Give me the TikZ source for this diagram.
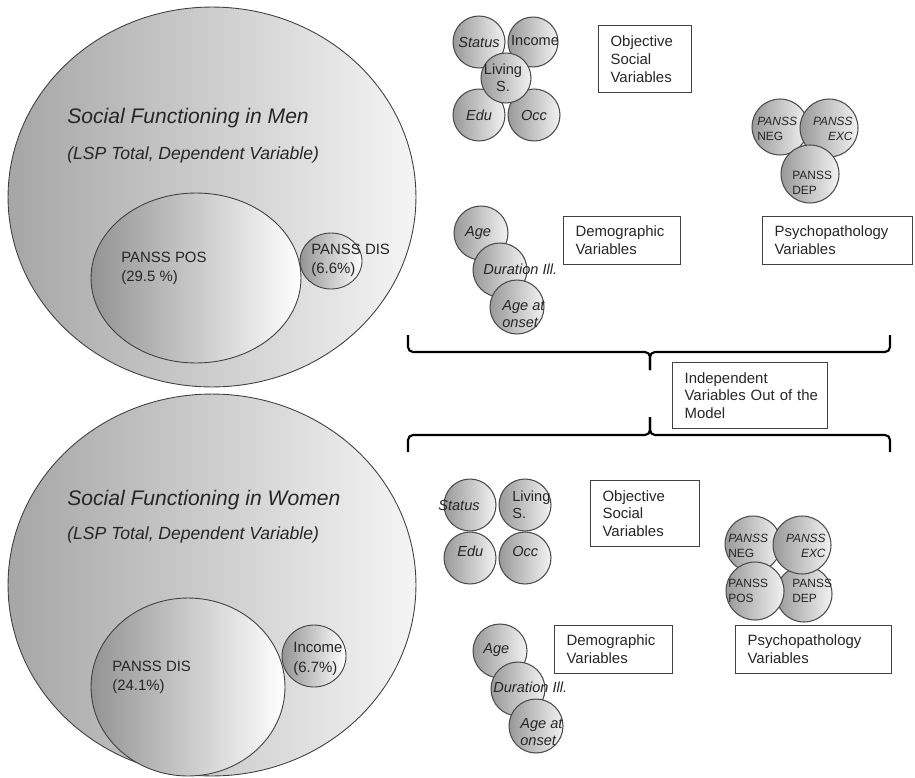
\documentclass[tikz,border=0pt]{standalone}
\usepackage{fontspec}
\setmainfont{Liberation Sans}
\setsansfont{Liberation Sans}
\usetikzlibrary{shapes.geometric}

\tikzset{
    % large shaded regions (dependent variable and explained parts)
    region/.style={ellipse, draw=black!75, line width=0.5pt,
        left color=black!35, right color=black!4, inner sep=0pt},
    inregion/.style={ellipse, draw=black!75, line width=0.5pt,
        left color=black!42, right color=white, inner sep=0pt},
    % small variable bubbles, #1 = radius
    bubble/.style={circle, draw=black!70, line width=0.6pt,
        left color=black!40, right color=black!5, inner sep=0pt,
        minimum size=#1*0.04cm},
    lbl/.style={inner sep=0pt, text=black!85, align=left,
        font=\fontsize{8.3}{9.6}\selectfont},
    psylbl/.style={lbl, font=\fontsize{6.8}{8.4}\selectfont},
    reglbl/.style={inner sep=0pt, text=black!85, align=left, anchor=west,
        font=\fontsize{8.5}{11}\selectfont},
    title/.style={inner sep=0pt, text=black!85, anchor=west,
        font=\fontsize{12}{14}\selectfont\itshape},
    subtitle/.style={inner sep=0pt, text=black!85, anchor=west,
        font=\fontsize{10}{12}\selectfont\itshape},
    varbox/.style={draw=black!75, line width=0.7pt, anchor=north west,
        inner xsep=0.24cm, inner ysep=0pt, align=left, text=black!85,
        font=\fontsize{8.5}{10.2}\selectfont},
    brace/.style={line width=1.2pt, rounded corners=0.1cm},
}

\begin{document}
\begin{tikzpicture}[x=0.02cm, y=-0.02cm]
    \useasboundingbox (0,0) rectangle (915,777);

    % ---- men: dependent variable and explained parts
    \node[region, minimum width=8.16cm, minimum height=7.6cm] (menall) at (212,197) {};
    \node[title] (mentitle) at (67,118) {Social Functioning in Men};
    \node[subtitle] (mensub) at (67,155) {(LSP Total, Dependent Variable)};
    \node[inregion, minimum width=4.2cm, minimum height=3.4cm] (menpos) at (196,278) {};
    \node[reglbl] (menposlbl) at (121,268) {PANSS POS\\(29.5 \%)};
    \node[inregion, minimum width=1.24cm, minimum height=1.12cm] (mendis) at (331,261) {};
    \node[reglbl] (mendislbl) at (311,260) {PANSS DIS\\(6.6\%)};

    % ---- women: dependent variable and explained parts
    \node[region, minimum width=8.16cm, minimum height=7.64cm] (womall) at (212,585) {};
    \node[title] (womtitle) at (67,500) {Social Functioning in Women};
    \node[subtitle] (womsub) at (67,535) {(LSP Total, Dependent Variable)};
    \node[inregion, minimum width=3.88cm, minimum height=3.56cm] (womdis) at (188,687) {};
    \node[reglbl] (womdislbl) at (112,677) {PANSS DIS\\(24.1\%)};
    \node[inregion, minimum width=1.28cm, minimum height=1.24cm] (wominc) at (314,656) {};
    \node[reglbl] (wominclbl) at (293,659) {Income\\(6.7\%)};

    % ---- men: objective social variables
    \node[bubble=26] (statusM) at (479,42) {};
    \node[bubble=25] (incomeM) at (533,42) {};
    \node[bubble=26] (eduM) at (479,115) {};
    \node[bubble=26] (occM) at (534,115) {};
    \node[bubble=25] (livingM) at (506,78) {};
    \node[lbl] (statusMl) at (statusM) {\itshape Status};
    \node[lbl] (incomeMl) at (535,41) {Income};
    \node[lbl] (eduMl) at (eduM) {\itshape Edu};
    \node[lbl] (occMl) at (occM) {\itshape Occ};
    \node[lbl, align=center] (livingMl) at (503,78) {Living\\S.};
    \node[varbox, minimum height=1.34cm, text width=1.38cm] (objM) at (598,25)
        {Objective\\Social\\Variables};

    % ---- men: psychopathology variables
    \node[bubble=28] (negM) at (780,127) {};
    \node[bubble=29] (excM) at (829,128) {};
    \node[bubble=29] (depM) at (810,174) {};
    \node[psylbl, anchor=west] (negMl) at (757,129) {\textit{PANSS}\\NEG};
    \node[psylbl, anchor=east, align=right] (excMl) at (853,129) {\textit{PANSS}\\\textit{EXC}};
    \node[psylbl, anchor=west] (depMl) at (792,183) {PANSS\\DEP};
    \node[varbox, minimum height=0.96cm, text width=2.52cm] (psyM) at (762,216)
        {Psychopathology\\Variables};

    % ---- men: demographic variables
    \node[bubble=27] (ageM) at (481,233) {};
    \node[bubble=27] (durM) at (500,270) {};
    \node[bubble=27] (onsetM) at (517,307) {};
    \node[lbl] (ageMl) at (478,233) {\itshape Age};
    \node[lbl, anchor=west] (durMl) at (483,269) {\itshape Duration Ill.};
    \node[lbl, anchor=west] (onsetMl) at (502,314) {\textit{Age at}\\\textit{onset}};
    \node[varbox, minimum height=0.96cm, text width=1.86cm] (demM) at (563,216)
        {Demographic\\Variables};

    % ---- braces round the variables left out of the model
    \draw[brace] (408,335) |- (650,352) -- (650,370);
    \draw[brace] (650,370) -- (650,352) -| (890,335);
    \node[varbox, minimum height=1.32cm, text width=2.62cm] (indep) at (672,362)
        {Independent\\Variables~Out~of~the\\Model};
    \draw[brace] (408,452) |- (650,435) -- (650,417);
    \draw[brace] (650,417) -- (650,435) -| (890,452);

    % ---- women: objective social variables
    \node[bubble=26] (statusW) at (470,505) {};
    \node[bubble=26] (livingW) at (525,505) {};
    \node[bubble=26] (eduW) at (470,558) {};
    \node[bubble=26] (occW) at (525,558) {};
    \node[lbl, anchor=west] (statusWl) at (438,505) {\itshape Status};
    \node[lbl, anchor=west] (livingWl) at (512,505) {Living\\S.};
    \node[lbl, anchor=west] (eduWl) at (457,551) {\itshape Edu};
    \node[lbl, anchor=west] (occWl) at (512,551) {\itshape Occ};
    \node[varbox, minimum height=1.32cm, text width=1.70cm] (objW) at (590,480)
        {Objective\\Social\\Variables};

    % ---- women: psychopathology variables
    \node[bubble=28] (negW) at (753,544) {};
    \node[bubble=28] (depW) at (804,594) {};
    \node[bubble=29] (excW) at (802,545) {};
    \node[bubble=29] (posW) at (755,591) {};
    \node[psylbl, anchor=west] (negWl) at (728,546) {\textit{PANSS}\\NEG};
    \node[psylbl, anchor=east, align=right] (excWl) at (826,546) {\textit{PANSS}\\\textit{EXC}};
    \node[psylbl, anchor=west] (posWl) at (728,591) {PANSS\\POS};
    \node[psylbl, anchor=west] (depWl) at (792,591) {PANSS\\DEP};
    \node[varbox, minimum height=0.96cm, text width=2.64cm] (psyW) at (735,625)
        {Psychopathology\\Variables};

    % ---- women: demographic variables
    \node[bubble=27] (ageW) at (500,651) {};
    \node[bubble=27] (durW) at (518,689) {};
    \node[bubble=27] (onsetW) at (536,726) {};
    \node[lbl, anchor=west] (ageWl) at (483,650) {\itshape Age};
    \node[lbl, anchor=west] (durWl) at (493,687) {\itshape Duration Ill.};
    \node[lbl, anchor=west] (onsetWl) at (520,732) {\textit{Age at}\\\textit{onset}};
    \node[varbox, minimum height=0.96cm, text width=1.88cm] (demW) at (554,625)
        {Demographic\\Variables};
\end{tikzpicture}
\end{document}
